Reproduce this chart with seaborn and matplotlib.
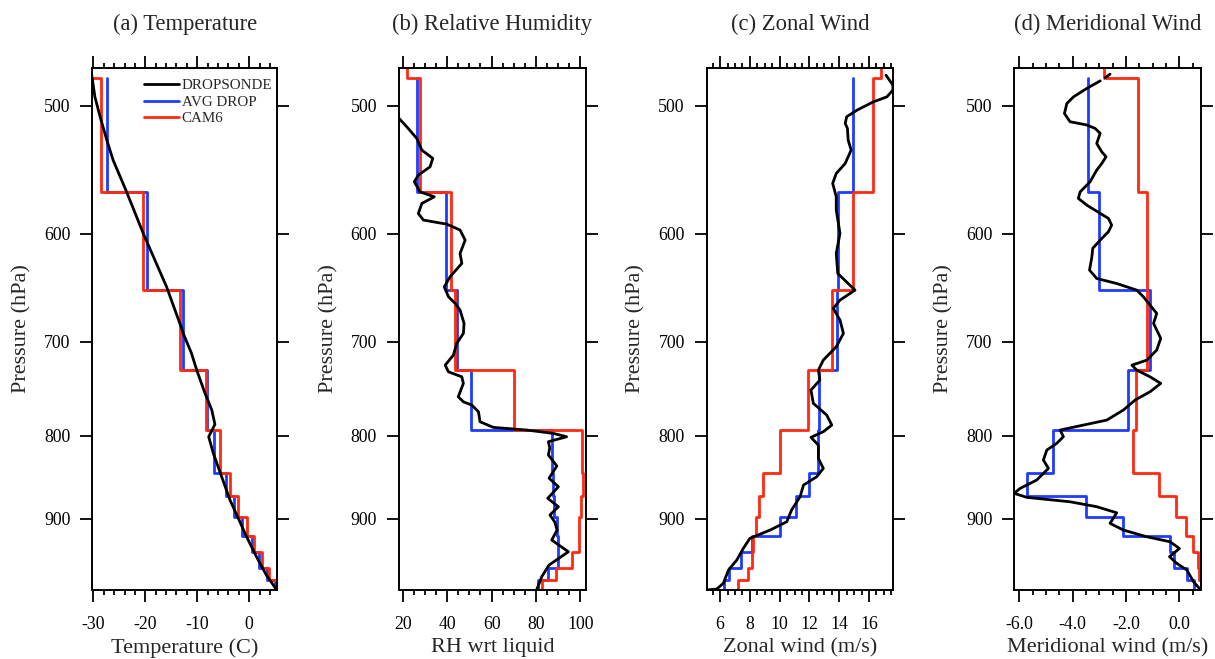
import numpy as np
import pandas as pd
import seaborn as sns
import matplotlib
matplotlib.use("Agg")
import matplotlib.pyplot as plt
from matplotlib.lines import Line2D
from matplotlib.ticker import MultipleLocator, NullLocator, FormatStrFormatter

# model layer interfaces (hPa); CAM6 has one more layer above the sonde top
ilev = [480.8, 565.8, 650.4, 728.8, 793.8, 843.2, 871.5, 897.8, 922.6, 944.4, 965.0, 981.7, 996.4]
ilev_cam_top = 409.8

# (a) temperature
t_drop_p = [474.2, 493.8, 508.0, 525.2, 540.3, 565.3, 599.7, 647.2, 686.6, 691.5, 711.5, 728.6,
            753.1, 771.2, 787.1, 801.1, 820.3, 848.0, 876.6, 899.7, 923.7, 950.3, 975.4, 996.4]
t_drop = [-30.5, -29.7, -28.7, -27.4, -26.2, -23.6, -20.4, -15.9, -13.0, -12.7, -11.1, -10.1,
          -8.5, -7.2, -6.6, -7.8, -6.9, -5.3, -3.7, -2.1, -0.5, 1.4, 3.3, 5.3]
t_avg = [-27.3, -19.7, -12.8, -8.2, -6.7, -4.5, -2.9, -1.3, 0.5, 1.9, 3.5, 4.9]
t_cam = [-33.0, -28.6, -20.5, -13.3, -8.4, -5.6, -3.7, -2.1, -0.5, 0.9, 2.4, 3.8, 5.3]

# (b) relative humidity
rh_drop_p = [502.0, 509.2, 515.3, 523.9, 532.7, 539.0, 545.5, 552.0, 557.3, 565.3, 569.3, 574.7, 583.0,
             588.5, 591.9, 596.9, 605.5, 617.1, 625.9, 638.0, 647.2, 656.4, 662.6, 668.9, 681.7,
             691.5, 701.4, 713.2, 723.5, 730.4, 735.6, 742.5, 756.8, 762.2, 765.8, 773.1, 784.2,
             790.5, 793.5, 797.3, 801.1, 806.8, 813.9, 822.2, 835.2, 849.8, 860.2, 874.5, 885.0,
             895.5, 904.5, 914.9, 928.0, 943.6, 961.6, 977.7, 996.4]
rh_drop = [15.5, 18.3, 21.8, 26.3, 28.6, 33.5, 32.3, 27.0, 25.2, 27.8, 34.2, 28.6, 27.0,
           29.3, 39.8, 45.8, 48.1, 45.8, 46.6, 41.3, 38.7, 40.6, 43.6, 45.8, 47.6,
           47.3, 44.3, 42.8, 39.1, 40.6, 46.6, 47.3, 45.0, 47.3, 51.1, 54.1, 54.8,
           60.8, 75.9, 87.8, 93.8, 85.6, 86.2, 85.6, 89.4, 85.9, 90.1, 85.3, 90.1,
           86.3, 88.5, 89.5, 87.1, 94.6, 85.9, 82.6, 80.3]
rh_avg = [26.6, 39.5, 44.6, 50.8, 87.1, 87.6, 88.2, 89.4, 90.1, 89.7, 85.2, 80.9]
rh_cam = [21.8, 27.8, 41.6, 43.6, 70.0, 100.9, 101.4, 100.3, 99.6, 99.6, 96.1, 88.9, 82.8]

# (c) zonal wind
u_drop_p = [478.8, 485.6, 489.1, 493.8, 497.3, 503.2, 508.0, 512.8, 516.5, 525.2, 532.7, 542.9,
            550.7, 558.5, 569.3, 580.2, 599.7, 617.1, 634.9, 650.2, 659.5, 667.3, 678.5, 691.5,
            704.8, 718.3, 728.6, 739.0, 749.6, 763.9, 776.8, 787.9, 795.4, 801.8, 810.7, 826.1,
            838.0, 848.0, 858.1, 872.5, 889.2, 904.1, 914.9, 925.8, 939.0, 954.8, 968.5, 986.9,
            995.0, 996.4]
u_drop = [17.14, 17.6, 17.6, 17.2, 16.3, 15.2, 14.5, 14.4, 14.55, 14.6, 14.8, 14.4,
          13.8, 13.56, 13.8, 13.8, 14.05, 13.8, 13.9, 15.06, 14.05, 13.6, 14.05, 14.28,
          13.8, 12.93, 12.6, 12.7, 12.1, 12.26, 13.16, 13.5, 12.93, 12.1, 12.6, 12.6,
          12.93, 12.49, 11.6, 11.37, 10.8, 10.48, 9.36, 8.0, 7.56, 7.12, 6.56, 6.22,
          5.78, 5.1]
u_avg = [14.9, 13.94, 13.83, 12.67, 12.6, 11.97, 11.08, 10.03, 8.13, 7.41, 6.63, 6.23]
u_cam = [16.8, 16.3, 14.9, 13.5, 11.9, 10.0, 8.91, 8.62, 8.40, 8.24, 8.13, 7.90, 7.19]

# (d) meridional wind (sonde has a short gap near the top)
v_drop_p = [478.1, 480.5, 482.7, 487.9, 493.8, 498.5, 505.6, 511.6, 514.0, 516.5, 520.1, 527.7,
            534.0, 537.8, 542.9, 548.1, 557.3, 565.3, 570.6, 576.1, 582.9, 587.1, 592.7, 598.3,
            605.5, 612.7, 620.0, 631.9, 639.5, 644.1, 650.2, 656.4, 664.2, 672.1, 681.7, 688.2,
            696.4, 708.1, 718.3, 723.5, 728.6, 735.6, 742.5, 751.4, 760.3, 771.2, 782.3, 787.9,
            793.5, 801.1, 808.7, 816.4, 828.1, 838.0, 852.0, 862.2, 868.3, 873.3, 878.8, 885.0,
            892.7, 906.2, 914.9, 923.7, 930.3, 939.2, 950.3, 959.3, 968.5, 984.7, 996.4]
v_drop = [-2.6, -2.78, -2.97, -3.47, -3.97, -4.22, -4.31, -4.1, -3.47, -3.16, -2.97, -3.1,
          -2.91, -2.75, -2.91, -3.1, -3.35, -3.72, -3.79, -3.47, -2.97, -2.66, -2.54, -2.66,
          -2.97, -3.25, -3.28, -3.37, -3.1, -2.35, -1.6, -1.35, -1.1, -0.85, -0.97, -0.85,
          -0.7, -0.85, -1.22, -1.78, -1.6, -1.1, -0.7, -1.1, -1.66, -2.1, -2.72, -3.6,
          -4.47, -4.35, -4.6, -4.97, -5.1, -4.91, -5.35, -5.97, -6.2, -5.72, -4.1, -3.1,
          -2.35, -2.6, -2.1, -1.22, -0.35, 0.0, -0.37, -0.1, 0.28, 0.53, 0.8]
v_gap_after = 2
v_avg = [-3.44, -3.01, -1.12, -1.91, -4.75, -5.72, -3.5, -2.12, -0.37, -0.22, 0.28, 0.53]
v_cam = [-2.81, -1.56, -1.22, -1.2, -1.62, -1.73, -0.75, -0.14, 0.25, 0.50, 0.68, 0.75, 0.80]

titles = ["(a) Temperature", "(b) Relative Humidity", "(c) Zonal Wind", "(d) Meridional Wind"]
xlabels = ["Temperature (C)", "RH wrt liquid", "Zonal wind (m/s)", "Meridional wind (m/s)"]
p_ticks = [500, 600, 700, 800, 900]

BLACK, BLUE, RED = "#000000", "#1e3cff", "#ff2a10"


def step_frame(levels, values):
    # layer values -> vertical segments joined at the interfaces
    lev = np.asarray(levels)
    p = np.column_stack([lev[:-1], lev[1:]]).ravel()
    return pd.DataFrame({"value": np.repeat(values, 2), "pressure": p})


def sonde_frame(p, x, seg=None):
    df = pd.DataFrame({"value": x, "pressure": p})
    df["seg"] = 0 if seg is None else seg
    return df


sns.set_theme(style="ticks")
plt.rcParams["font.family"] = ["Liberation Serif", "DejaVu Serif"]
plt.rcParams["axes.unicode_minus"] = False

fig = plt.figure(figsize=(12.15, 6.59), dpi=100)
W, H = 1215, 659
lefts = [92.3, 399.0, 706.7, 1014.3]
widths = [184.7, 186.7, 186.6, 186.7]
top_px, bot_px = 67.5, 590.0

v_seg = np.where(np.arange(len(v_drop)) < v_gap_after, 0, 1)
panels = [
    (sonde_frame(t_drop_p, t_drop), t_avg, t_cam, (-30.2, 5.35), 10, 2, "%d"),
    (sonde_frame(rh_drop_p, rh_drop), rh_avg, rh_cam, (18.3, 102.4), 20, 5, "%d"),
    (sonde_frame(u_drop_p, u_drop), u_avg, u_cam, (5.1, 17.63), 2, 0.5, "%d"),
    (sonde_frame(v_drop_p, v_drop, v_seg), v_avg, v_cam, (-6.19, 0.81), 2, 0.5, "%.1f"),
]

lw = 2.0
for i, (drop, avg, cam, xlim, major, minor, fmt) in enumerate(panels):
    ax = fig.add_axes([lefts[i] / W, (H - bot_px) / H, widths[i] / W, (bot_px - top_px) / H])
    sns.lineplot(data=step_frame(ilev, avg), x="value", y="pressure", sort=False,
                 estimator=None, color=BLUE, lw=lw, ax=ax)
    sns.lineplot(data=step_frame([ilev_cam_top] + ilev, cam), x="value", y="pressure", sort=False,
                 estimator=None, color=RED, lw=lw, ax=ax)
    sns.lineplot(data=drop, x="value", y="pressure", units="seg", sort=False,
                 estimator=None, color=BLACK, lw=lw, ax=ax)

    ax.set_yscale("log")
    ax.set_ylim(996.4, 473.6)
    ax.set_yticks(p_ticks, labels=[str(p) for p in p_ticks])
    ax.yaxis.set_minor_locator(NullLocator())
    ax.set_xlim(*xlim)
    ax.xaxis.set_major_locator(MultipleLocator(major))
    ax.xaxis.set_minor_locator(MultipleLocator(minor))
    ax.xaxis.set_major_formatter(FormatStrFormatter(fmt))

    ax.tick_params(which="both", direction="out", top=True, right=True, width=1.3,
                   labelsize=12.8, colors="black")
    ax.tick_params(axis="y", pad=7)
    ax.tick_params(axis="x", pad=10)
    ax.tick_params(which="major", length=8.8)
    ax.tick_params(which="minor", length=3.8)
    for s in ax.spines.values():
        s.set_linewidth(1.4)
        s.set_color("black")

    ax.set_title(titles[i], fontsize=16.3, pad=27)
    ax.set_xlabel(xlabels[i], fontsize=16, labelpad=3.5)
    ax.set_ylabel("Pressure (hPa)", fontsize=16, labelpad=9)

    if i == 0:
        handles = [Line2D([], [], color=c, lw=lw) for c in (BLACK, BLUE, RED)]
        ax.legend(handles, ["DROPSONDE", "AVG DROP", "CAM6"], loc="upper right",
                  bbox_to_anchor=(0.975, 0.978), frameon=False, fontsize=10.8,
                  handlelength=2.35, handletextpad=0.2, labelspacing=0.2,
                  borderpad=0, borderaxespad=0)

fig.savefig("out.png", dpi=100)
